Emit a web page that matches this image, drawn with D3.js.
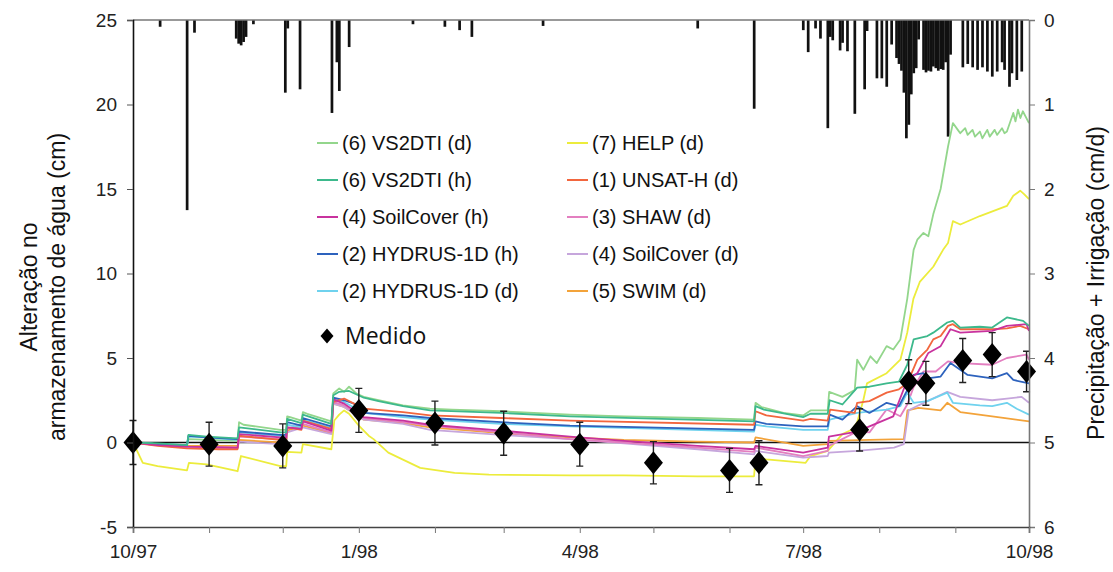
<!DOCTYPE html>
<html>
<head>
<meta charset="utf-8">
<script src="https://cdn.jsdelivr.net/npm/d3@7"></script>
<style>
  html, body { margin: 0; padding: 0; background: #fff; }
  svg { display: block; font-family: "Liberation Sans", Arial, sans-serif; }
</style>
</head>
<body>
<svg id="chart" width="1113" height="572"></svg>
<script>
// ---- Data: water storage change (cm) by model, days since 1 Oct 1997 ----
const startUTC = Date.UTC(1997, 9, 1);

const seriesNames = [
  "(6) VS2DTI (d)", "(6) VS2DTI (h)", "(4) SoilCover (h)", "(2) HYDRUS-1D (h)", "(2) HYDRUS-1D (d)",
  "(7) HELP (d)", "(1) UNSAT-H (d)", "(3) SHAW (d)", "(4) SoilCover (d)", "(5) SWIM (d)"
];
const seriesColors = [
  "#93d68c", "#3db98c", "#c8329e", "#2d62bd", "#6fd2ee",
  "#ecec3c", "#f2663e", "#e37fc0", "#c6a6dc", "#f3a33a"
];

const vs2dtiD = [[0,0],[10,-0.1],[22,-0.2],[22.6,0.2],[42.6,0.1],[43.2,1.2],[45,1.05],[60,0.75],[62.4,0.75],[62.8,1.55],[64,1.5],[68.6,1.3],[69.2,1.8],[71,1.7],[80.8,1.25],[81.6,2.9],[84,3.2],[86,3.0],[88,3.3],[91,2.9],[94,2.7],[100,2.5],[110,2.2],[121,2.0],[130,1.95],[150,1.85],[178,1.65],[200,1.55],[230,1.45],[253,1.35],[253.6,2.35],[256,2.1],[265,1.75],[273,1.6],[276,1.9],[283,1.9],[283.6,3.0],[289,2.7],[294,3.1],[295,4.9],[297.5,4.3],[300.4,5.1],[303,4.7],[307,5.7],[309.7,5.5],[312.6,6.1],[315.4,8.5],[318,11.4],[319.5,12.0],[322,12.4],[324,12.2],[326,13.5],[329,15.0],[332,17.5],[334,18.9],[336,18.5],[337,18.3],[339,18.6],[340,18.2],[342,18.5],[343,18.1],[345,18.4],[346,18.0],[348,18.5],[349,18.1],[351,18.5],[352,18.2],[354,18.6],[355,18.3],[356,18.4],[358.6,19.5],[359.5,19.0],[360.5,19.7],[361.5,19.2],[362.5,19.6],[365,18.9]];
const vs2dtiH = [[0,0],[10,-0.05],[22,-0.15],[22.6,0.45],[30,0.35],[42.6,0.25],[43.2,0.9],[60,0.6],[62.4,0.6],[62.8,1.4],[68.6,1.15],[69.2,1.65],[80.8,1.1],[81.6,2.8],[84,3.0],[88,3.05],[94,2.65],[100,2.45],[110,2.15],[121,1.9],[150,1.75],[178,1.55],[253,1.25],[253.6,2.15],[257,1.95],[273,1.5],[276,1.7],[283,1.7],[283.8,2.5],[289,2.25],[295,3.25],[300,3.3],[307,3.5],[312,3.6],[315.4,4.6],[318,6.1],[323.6,6.3],[326,6.5],[331.7,7.1],[334,7.2],[337,6.8],[345,6.85],[350,6.8],[356,7.4],[362.6,7.2],[365,6.9]];
const soilCoverH = [[0,0],[10,-0.15],[22,-0.25],[42.6,-0.3],[43.2,0.5],[60,0.3],[62.4,0.3],[62.8,0.9],[68.6,0.8],[69.2,1.25],[80.8,0.7],[81.6,2.55],[86,2.3],[94,1.5],[110,1.3],[121,1.05],[150,0.7],[178,0.35],[200,0.1],[230,-0.2],[253,-0.4],[253.6,-0.2],[273,-0.6],[283,-0.3],[283.5,0.35],[295,0.65],[300,0.95],[309.7,1.55],[315.4,3.7],[319.5,4.1],[324,5.3],[329,5.7],[333,6.7],[337,6.5],[350,6.6],[356,6.9],[364,7.0],[365,6.6]];
const hydrusH = [[0,0],[10,-0.1],[22,-0.15],[22.6,0.4],[30,0.3],[42.6,0.2],[43.2,0.65],[60,0.45],[62.4,0.45],[62.8,1.2],[68.6,1.0],[69.2,1.45],[80.8,0.95],[81.6,2.65],[86,2.5],[90,2.3],[94,1.75],[110,1.6],[121,1.45],[150,1.2],[178,1.0],[253,0.75],[253.6,1.25],[258,1.1],[273,0.95],[283,0.95],[283.8,1.65],[289,1.35],[295,2.15],[300,1.75],[307,2.35],[312,2.15],[315.4,3.1],[318,4.0],[322,4.1],[323.6,3.8],[329,3.9],[333,4.7],[337,4.3],[340,4.0],[350,3.8],[356,4.1],[358.6,3.7],[365,3.5]];
const hydrusD = [[0,0],[10,-0.1],[22,-0.2],[22.6,0.35],[30,0.3],[42.6,0.15],[43.2,0.6],[60,0.4],[62.4,0.4],[62.8,1.05],[68.6,0.9],[69.2,1.35],[80.8,0.85],[81.6,2.55],[86,2.4],[94,1.75],[110,1.5],[121,1.35],[150,1.1],[178,0.95],[253,0.65],[253.6,1.05],[258,0.95],[273,0.75],[283,0.75],[283.8,1.35],[295,1.75],[307,1.95],[312.6,2.15],[315.4,2.95],[318,2.35],[323.6,2.45],[331.7,2.95],[334,2.35],[345,2.2],[350,2.15],[356,2.35],[360,2.0],[365,1.65]];
const helpD = [[0,0],[2,-0.6],[4,-1.2],[10,-1.4],[22,-1.65],[22.8,-1.2],[30,-1.3],[42.6,-1.7],[44,-0.8],[60,-1.4],[62.4,-1.4],[62.8,-0.55],[68.6,-0.6],[69.2,-0.1],[80.8,-0.4],[82,1.3],[84,1.65],[86,1.9],[88,1.7],[92,1.0],[96,0.4],[98,0.2],[104,-0.6],[117,-1.5],[131,-1.8],[145,-1.9],[178,-1.95],[200,-1.95],[230,-2.0],[253,-2.0],[253.6,-0.9],[258,-1.0],[274,-1.2],[276,-0.8],[283,-0.5],[289,0.5],[293,0.77],[295,1.2],[297.5,2.5],[299,3.5],[307,4.1],[312.6,4.9],[315.4,6.5],[317.9,8.5],[320.5,9.5],[326,10.4],[330,11.4],[332,11.8],[334,13.1],[337,12.9],[345,13.4],[356,14.0],[358.6,14.6],[361.4,14.9],[363,14.7],[365,14.4]];
const unsatH = [[0,0],[10,-0.2],[22,-0.35],[35,-0.4],[42.6,-0.4],[43.2,0.4],[60,0.15],[62.4,0.15],[62.8,0.9],[68.6,0.75],[69.2,1.3],[80.8,0.8],[81.6,2.4],[86,2.6],[90,2.3],[94,2.0],[110,1.8],[121,1.6],[150,1.45],[178,1.3],[253,1.05],[253.6,1.85],[258,1.6],[273,1.3],[276,1.4],[283,1.3],[284,1.95],[294,1.75],[295,2.35],[300,2.45],[307,2.95],[312,3.15],[315.4,3.5],[319.5,4.9],[323.6,5.5],[326,6.1],[329,6.3],[332,6.9],[334,7.0],[337,6.7],[350,6.7],[356,6.75],[361.4,6.9],[365,6.7]];
const shawD = [[0,0],[10,-0.15],[22,-0.25],[42.6,-0.3],[43.2,0.35],[60,0.2],[62.4,0.2],[62.8,0.8],[69.2,1.1],[80.8,0.6],[81.6,2.4],[86,2.2],[94,1.45],[110,1.2],[121,1.0],[150,0.6],[178,0.2],[200,0.0],[230,-0.3],[253,-0.55],[253.6,-0.3],[273,-0.8],[283,-0.5],[283.5,-0.2],[295,0.65],[300,0.6],[307,1.95],[312.6,1.55],[315.4,2.25],[317.9,3.25],[322,4.2],[327,4.2],[332,4.8],[337,4.7],[350,4.6],[356,5.0],[364,5.2],[365,4.9]];
const soilCoverD = [[0,0],[10,-0.15],[22,-0.3],[42.6,-0.35],[43.2,0.05],[60,-0.1],[62.4,-0.1],[62.8,0.6],[69.2,0.9],[80.8,0.5],[81.6,2.3],[86,2.1],[94,1.35],[110,1.1],[121,0.75],[150,0.45],[178,0.2],[200,-0.05],[230,-0.4],[253,-0.7],[253.6,-0.5],[273,-0.9],[283,-0.8],[283.5,-0.6],[295,-0.5],[310,-0.3],[314,-0.1],[316,1.9],[320,2.2],[331.7,3.0],[337,2.7],[350,2.5],[356,2.6],[362,2.7],[365,2.35]];
const swimD = [[0,0],[10,-0.1],[22,-0.2],[42.6,-0.2],[43.2,0.15],[60,0.0],[62.4,0.0],[62.8,0.7],[69.2,1.0],[80.8,0.55],[81.6,2.3],[86,2.1],[94,1.35],[110,1.15],[121,0.9],[150,0.55],[178,0.3],[200,0.15],[230,0.05],[253,0.0],[253.6,0.3],[273,-0.2],[283,-0.1],[283.5,0.1],[300,0.15],[314,0.2],[315.5,1.9],[320,2.05],[329,1.9],[331.7,2.35],[337,1.8],[350,1.55],[365,1.25]];

const seriesValues = [vs2dtiD, vs2dtiH, soilCoverH, hydrusH, hydrusD, helpD, unsatH, shawD, soilCoverD, swimD];
// drawing order (back to front)
const drawOrder = [5, 0, 9, 8, 7, 4, 3, 6, 2, 1];

// measured storage change with error bars
const measDays   = [0, 31, 61, 92, 123, 151, 182, 212, 243, 255, 296, 316, 323, 338, 350, 364];
const measValues = [0, -0.1, -0.2, 1.9, 1.15, 0.55, -0.1, -1.2, -1.65, -1.2, 0.75, 3.6, 3.5, 4.85, 5.2, 4.2];
const measErr    = [1.3, 1.3, 1.3, 1.3, 1.3, 1.3, 1.3, 1.25, 1.3, 1.3, 1.25, 1.3, 1.3, 1.3, 1.3, 1.2];

// daily precipitation + irrigation (cm/d)
const precipDays = [11, 22, 25, 42, 43, 44, 45, 46, 49, 62, 63, 68, 81, 83, 84, 88, 114, 127, 133, 138, 167, 230, 253,
  273, 275, 278, 280, 283, 284, 285, 288, 289, 291, 294, 298, 299, 303, 305, 307, 309,
  311, 312, 313, 314, 315, 316, 317, 318, 319, 320,
  322, 323, 324, 325, 326, 327, 328, 329, 330, 331, 332, 333,
  338, 340, 342, 344, 346, 348, 350, 352, 354, 355, 357, 358, 360, 362];
const precipCm = [0.08, 2.25, 0.15, 0.22, 0.28, 0.3, 0.26, 0.2, 0.05, 0.86, 0.1, 0.82, 1.1, 0.5, 0.84, 0.32, 0.05, 0.08, 0.12, 0.2, 0.07, 0.1, 1.05,
  0.12, 0.38, 0.1, 0.22, 1.28, 0.2, 0.24, 0.36, 0.27, 0.37, 1.11, 0.82, 0.13, 0.69, 0.69, 0.79, 0.29,
  0.45, 0.52, 0.6, 0.86, 1.4, 1.24, 0.88, 0.63, 0.57, 0.23,
  0.59, 0.62, 0.6, 0.61, 0.55, 0.57, 0.6, 0.58, 0.59, 0.5, 1.38, 0.41,
  0.56, 0.52, 0.56, 0.59, 0.56, 0.61, 0.67, 0.61, 0.5, 0.59, 0.79, 0.63, 0.71, 0.61];

// axis labels
const leftTicks  = [-5, 0, 5, 10, 15, 20, 25];
const rightTicks = [0, 1, 2, 3, 4, 5, 6];
const leftTitle  = ["Alteração no", "armazenamento de água (cm)"];
const rightTitle = "Precipitação + Irrigação (cm/d)";
const measLabel  = "Medido";

// ---- Layout ----
const svg = d3.select("#chart");
const L = 133, R = 1029, T = 20, B = 527;
const dayToDate = d => new Date(startUTC + d * 864e5);

const x  = d3.scaleUtc().domain([dayToDate(0), dayToDate(365)]).range([L, R]);
const y  = d3.scaleLinear().domain([-5, 25]).range([B, T]);
const y2 = d3.scaleLinear().domain([0, 6]).range([T, B]);
const dayW = x(dayToDate(1)) - x(dayToDate(0));

// precipitation bars hanging from the top
svg.append("g").selectAll("rect").data(precipDays).join("rect")
  .attr("x", (d) => x(dayToDate(d)) - dayW / 2)
  .attr("y", T)
  .attr("width", dayW * 1.1)
  .attr("height", (d, i) => y2(precipCm[i]) - T)
  .attr("fill", "#111");

// frame (top and right are grey)
svg.append("line").attr("x1", L).attr("x2", R).attr("y1", T).attr("y2", T)
  .attr("stroke", "#777").attr("stroke-width", 1.3);

// zero line
svg.append("line").attr("x1", L).attr("x2", R).attr("y1", y(0)).attr("y2", y(0))
  .attr("stroke", "#111").attr("stroke-width", 1.6);

// model lines
const line = d3.line().x(p => x(dayToDate(p[0]))).y(p => y(p[1]));
svg.append("g").selectAll("path").data(drawOrder).join("path")
  .attr("d", i => line(seriesValues[i]))
  .attr("fill", "none")
  .attr("stroke", i => seriesColors[i])
  .attr("stroke-width", 1.8)
  .attr("stroke-linejoin", "round");

// measured values with error bars
const meas = measDays.map((d, i) => ({ d, v: measValues[i], e: measErr[i] }));
const mg = svg.append("g");
mg.selectAll("path.err").data(meas).join("path").attr("class", "err")
  .attr("d", m => {
    const cx = x(dayToDate(m.d)), y1 = y(m.v + m.e), y0 = y(m.v - m.e);
    return `M${cx},${y1}V${y0}M${cx - 3.5},${y1}H${cx + 3.5}M${cx - 3.5},${y0}H${cx + 3.5}`;
  })
  .attr("stroke", "#222").attr("stroke-width", 1.4).attr("fill", "none");
const diamond = (cx, cy, w, h) => `M${cx},${cy - h / 2}L${cx + w / 2},${cy}L${cx},${cy + h / 2}L${cx - w / 2},${cy}Z`;
mg.selectAll("path.pt").data(meas).join("path").attr("class", "pt")
  .attr("d", m => diamond(x(dayToDate(m.d)), y(m.v), 19, 23))
  .attr("fill", "#000");

// axes
const axisStyle = g => {
  g.selectAll("text").attr("font-size", 19).attr("fill", "#222")
    .attr("font-family", "'Liberation Sans', Arial, sans-serif");
};
svg.append("g").attr("transform", `translate(${L},0)`)
  .call(d3.axisLeft(y).tickValues(leftTicks).tickSize(6).tickPadding(10).tickFormat(d => String(d)))
  .call(g => g.select(".domain").attr("stroke", "#111").attr("stroke-width", 1.6))
  .call(g => g.selectAll(".tick line").attr("stroke", "#555"))
  .call(axisStyle);

svg.append("g").attr("transform", `translate(${R},0)`)
  .call(d3.axisRight(y2).tickValues(rightTicks).tickSize(6).tickPadding(9).tickFormat(d => String(d)))
  .call(g => g.select(".domain").attr("stroke", "#777").attr("stroke-width", 1.6))
  .call(g => g.selectAll(".tick line").attr("stroke", "#777"))
  .call(axisStyle);

const quarterLabel = d => (d.getUTCMonth() % 3 === 0)
  ? `${d.getUTCMonth() + 1}/${String(d.getUTCFullYear()).slice(2)}` : "";
svg.append("g").attr("transform", `translate(0,${B})`)
  .call(d3.axisBottom(x).ticks(d3.utcMonth.every(1)).tickSize(6).tickPadding(12).tickFormat(quarterLabel))
  .call(g => g.select(".domain").attr("stroke", "#444").attr("stroke-width", 1.6))
  .call(g => g.selectAll(".tick line").attr("stroke", "#777"))
  .call(axisStyle);

// axis titles
svg.append("text")
  .attr("transform", "translate(37,287) rotate(-90)")
  .attr("text-anchor", "middle").attr("font-size", 23).attr("fill", "#111")
  .text(leftTitle[0]);
svg.append("text")
  .attr("transform", "translate(65,287) rotate(-90)")
  .attr("text-anchor", "middle").attr("font-size", 23).attr("fill", "#111")
  .text(leftTitle[1]);
svg.append("text")
  .attr("transform", "translate(1104,283) rotate(-90)")
  .attr("text-anchor", "middle").attr("font-size", 23).attr("fill", "#111")
  .text(rightTitle);

// legend
const legend = svg.append("g");
const colX = [317, 567], rowY0 = 143, rowStep = 37;
seriesNames.forEach((name, i) => {
  const col = i < 5 ? 0 : 1, row = i % 5;
  const gx = colX[col], gy = rowY0 + row * rowStep;
  legend.append("line").attr("x1", gx).attr("x2", gx + 21).attr("y1", gy).attr("y2", gy)
    .attr("stroke", seriesColors[i]).attr("stroke-width", 2);
  legend.append("text").attr("x", gx + 25).attr("y", gy).attr("dy", "0.35em")
    .attr("font-size", 20).attr("fill", "#111").text(name);
});
const my = rowY0 + 5 * rowStep + 8;
legend.append("path").attr("d", diamond(327, my, 13, 15)).attr("fill", "#000");
legend.append("text").attr("x", 345).attr("y", my).attr("dy", "0.36em")
  .attr("font-family", "'Open Sans', sans-serif").attr("font-size", 23).attr("fill", "#111")
  .text(measLabel);
</script>
</body>
</html>
